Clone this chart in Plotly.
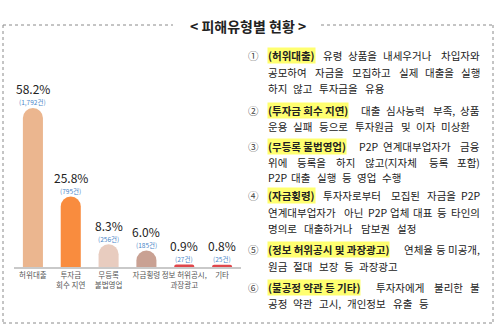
import plotly.graph_objects as go

# ---------------- data ----------------
categories = ["허위대출", "투자금<br>회수 지연", "무등록<br>불법영업", "자금횡령",
              "정보 허위공시,<br>과장광고", "기타"]
shares = [58.2, 25.8, 8.3, 6.0, 0.9, 0.8]
share_labels = ["58.2%", "25.8%", "8.3%", "6.0%", "0.9%", "0.8%"]
count_labels = ["(1,792건)", "(795건)", "(256건)", "(185건)", "(27건)", "(25건)"]
bar_colors = ["#EBB68F", "#F98C3E", "#E8CCBF", "#C9A193", "#E0474C", "#E0474C"]

title_text = "< 피해유형별 현황 >"

# description list: (number, bold head, rest of first line, following lines)
items = [
    ("①", "(허위대출)", "유령 상품을 내세우거나 차입자와",
     ["공모하여 자금을 모집하고 실제 대출을 실행", "하지 않고 투자금을 유용"]),
    ("②", "(투자금 회수 지연)", "대출 심사능력 부족, 상품",
     ["운용 실패 등으로 투자원금 및 이자 미상환"]),
    ("③", "(무등록 불법영업)", "P2P 연계대부업자가 금융",
     ["위에 등록을 하지 않고(지자체 등록 포함)", "P2P 대출 실행 등 영업 수행"]),
    ("④", "(자금횡령)", "투자자로부터 모집된 자금을 P2P",
     ["연계대부업자가 아닌 P2P 업체 대표 등 타인의", "명의로 대출하거나 담보권 설정"]),
    ("⑤", "(정보 허위공시 및 과장광고)", "연체율 등 미공개,",
     ["원금 절대 보장 등 과장광고"]),
    ("⑥", "(불공정 약관 등 기타)", "투자자에게 불리한 불",
     ["공정 약관 고시, 개인정보 유출 등"]),
]
item_line_y = [[56, 72, 88], [110, 126], [147, 162, 177],
               [196, 212, 228], [250, 266], [287, 303]]

# ---------------- layout helpers ----------------
W, H = 500, 333
FONT = "Noto Sans CJK KR"
def px(x): return x / W
def py(y): return 1 - y / H

BASE_Y = 267      # bar baseline in pixels
TOP_Y = 30        # top of plotting domain
BAR1_TOP = 108    # top of tallest bar
y_max = shares[0] * (BASE_Y - TOP_Y) / (BASE_Y - BAR1_TOP)

fig = go.Figure()
fig.add_trace(go.Bar(
    x=list(range(len(categories))), y=shares,
    marker=dict(color=bar_colors, cornerradius="50%", line=dict(width=0)),
    hoverinfo="skip", width=0.53,
))

annotations = []
for i, (s, pl, cl) in enumerate(zip(shares, share_labels, count_labels)):
    annotations.append(dict(x=i, y=s, xref="x", yref="y", text=pl, showarrow=False,
                            yanchor="middle", yshift=19, borderpad=0,
                            font=dict(family=FONT, size=12, color="#222")))
    annotations.append(dict(x=i, y=s, xref="x", yref="y", text=cl, showarrow=False,
                            yanchor="middle", yshift=5.5, borderpad=0,
                            font=dict(family=FONT, size=6.5, color="#4A86C8")))

# title
annotations.append(dict(x=px(247.5), y=py(26), xref="paper", yref="paper",
                        text="<b>" + title_text + "</b>", showarrow=False,
                        xanchor="center", yanchor="middle",
                        font=dict(family=FONT, size=14, color="#222")))

# ---------- justified text on the right ----------
FS = 10.5
X0, X1 = 267, 481

def est_w(t, bold=False):
    w = 0.0
    for ch in t:
        o = ord(ch)
        if 0xAC00 <= o <= 0xD7A3:
            w += 1.0
        elif ch == " ":
            w += 0.25
        elif ch in "()":
            w += 0.34
        elif ch in ",.":
            w += 0.27
        elif ch.isdigit():
            w += 0.55
        elif ch.isupper():
            w += 0.62
        else:
            w += 0.55
    return w * FS * (1.03 if bold else 1.0)

def add_text(x, y, text, anchor="left", bold=False):
    annotations.append(dict(
        x=px(x), y=py(y), xref="paper", yref="paper", showarrow=False,
        text=("<b>" + text + "</b>") if bold else text,
        xanchor=anchor, yanchor="middle", borderpad=0,
        bgcolor="#FFFF70" if bold else "rgba(0,0,0,0)",
        font=dict(family=FONT, size=FS, color="#222")))

def place(y, tokens, justify=True):
    widths = [est_w(t, b) for t, b in tokens]
    if justify and len(tokens) > 1:
        gap = (X1 - X0 - sum(widths)) / (len(tokens) - 1)
    else:
        gap = 0.42 * FS
    x = X0
    for k, ((t, b), w) in enumerate(zip(tokens, widths)):
        if justify and k == len(tokens) - 1 and len(tokens) > 1:
            add_text(X1, y, t, "right", b)
        else:
            add_text(x, y, t, "left", b)
        x += w + gap

for (num, head, rest, more), ys in zip(items, item_line_y):
    annotations.append(dict(x=px(253), y=py(ys[0]), xref="paper", yref="paper",
                            text=num, showarrow=False, xanchor="center", yanchor="middle",
                            font=dict(family=FONT, size=10.5, color="#444")))
    place(ys[0], [(head, True)] + [(w, False) for w in rest.split(" ")])
    for j, line in enumerate(more):
        place(ys[j + 1], [(w, False) for w in line.split(" ")],
              justify=(j != len(more) - 1))

# ---------- dotted frame ----------
frame = dict(color="#8a8a8a", width=1, dash="dot")
shapes = [
    dict(type="line", xref="paper", yref="paper", x0=px(3), x1=px(173), y0=py(25), y1=py(25), line=frame),
    dict(type="line", xref="paper", yref="paper", x0=px(321), x1=px(493), y0=py(25), y1=py(25), line=frame),
    dict(type="line", xref="paper", yref="paper", x0=px(3), x1=px(3), y0=py(25), y1=py(323), line=frame),
    dict(type="line", xref="paper", yref="paper", x0=px(493), x1=px(493), y0=py(25), y1=py(323), line=frame),
    dict(type="line", xref="paper", yref="paper", x0=px(3), x1=px(493), y0=py(323), y1=py(323), line=frame),
]

fig.update_layout(
    width=W, height=H,
    margin=dict(l=0, r=0, t=0, b=0),
    paper_bgcolor="white", plot_bgcolor="white",
    showlegend=False,
    annotations=annotations, shapes=shapes,
    xaxis=dict(domain=[px(14), px(241)], range=[-0.5, len(categories) - 0.5],
               tickmode="array", tickvals=list(range(len(categories))), ticktext=categories,
               tickangle=0,
               tickfont=dict(family=FONT, size=7.5, color="#555"),
               showline=True, linecolor="#c9c9c9", linewidth=2,
               showgrid=False, zeroline=False, ticks="", fixedrange=True),
    yaxis=dict(domain=[py(BASE_Y), py(TOP_Y)], range=[0, y_max],
               showgrid=False, zeroline=False, showticklabels=False, showline=False,
               fixedrange=True),
)

fig.write_html("out.html")
